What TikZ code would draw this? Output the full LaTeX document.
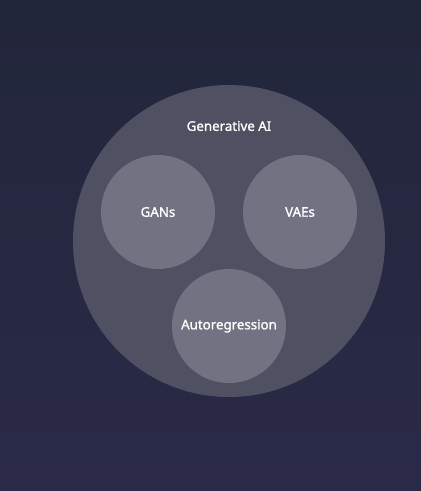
\documentclass[tikz,border=0pt]{standalone}
\usepackage{fontspec}
\setmainfont{Noto Sans}
\newfontfamily\lblfont{Noto Sans}[FakeBold=1.2]
\begin{document}
\begin{tikzpicture}[x=1pt,y=-1pt,
  lbl/.style={text=white,font=\lblfont\fontsize{13.3}{16}\selectfont},
  outer/.style={circle,fill=bigc,minimum size=312pt,inner sep=0pt},
  inner/.style={circle,fill=smallc,minimum size=114pt,inner sep=0pt}]
\definecolor{bgtop}{HTML}{22263A}
\definecolor{bgbot}{HTML}{2A2A48}
\definecolor{bigc}{HTML}{4F5163}
\definecolor{smallc}{HTML}{717383}
\useasboundingbox (0,0) rectangle (421,491);
\shade[top color=bgtop,bottom color=bgbot] (0,0) rectangle (421,491);
\node[outer] (gen) at (229,241) {};
\node[lbl] (genl) at (229,126) {Generative AI};
\node[inner] (gans) at (158,212) {};
\node[lbl] (gansl) at (gans.center) {GANs};
\node[inner] (vaes) at (300,212) {};
\node[lbl] (vaesl) at (vaes.center) {VAEs};
\node[inner] (auto) at (229,326) {};
\node[lbl] (autol) at (auto.center) {Autoregression};
\end{tikzpicture}
\end{document}
